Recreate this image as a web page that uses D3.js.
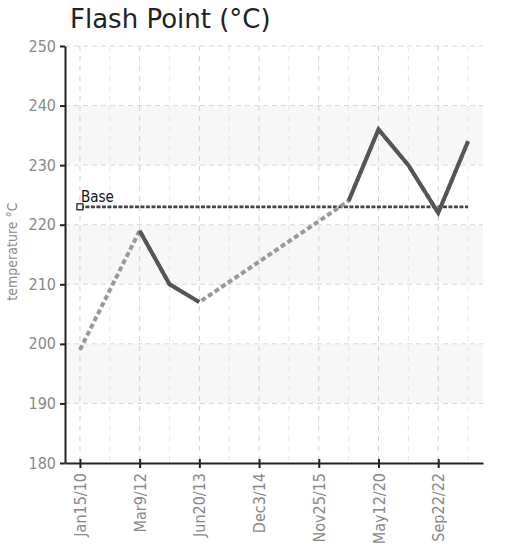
<!DOCTYPE html>
<html>
<head>
<meta charset="utf-8">
<script src="https://cdn.jsdelivr.net/npm/d3@7"></script>
<style>
  body { margin: 0; background: #fff; }
  .tick text { font-family: "DejaVu Sans Condensed", "DejaVu Sans"; font-stretch: condensed; }
</style>
</head>
<body>
<div id="chart"></div>
<script>
// x categories: only every other date is labelled on the axis
const dateLabels = ["Jan15/10", "Mar9/12", "Jun20/13", "Dec3/14", "Nov25/15", "May12/20", "Sep22/22"];
const pointCount = 14;
// flash point readings, null = no measurement (bridged with a dashed line)
const flashPoint = [199, null, 219, 210, 207, null, null, null, null, 224, 236, 230, 222, 234];
const baseValue = 223;
const yTicks = [180, 190, 200, 210, 220, 230, 240, 250];
const bands = [[230, 240], [210, 220], [190, 200]];

const W = 508, H = 549;
const margin = { top: 46, right: 25, bottom: 86, left: 65 };
const width = W - margin.left - margin.right,
  height = H - margin.top - margin.bottom;

const svg = d3.select("#chart").append("svg")
  .attr("width", W).attr("height", H);

svg.append("text")
  .attr("x", 70).attr("y", 28)
  .attr("font-family", "DejaVu Sans")
  .attr("font-size", 26)
  .attr("fill", "#222")
  .text("Flash Point (°C)");

const g = svg.append("g")
  .attr("transform", "translate(" + margin.left + "," + margin.top + ")");

const x = d3.scalePoint()
  .domain(d3.range(pointCount))
  .range([0, width])
  .padding(0.5);

const y = d3.scaleLinear()
  .domain([180, 250])
  .range([height, 0]);

// shaded bands
g.selectAll("rect.band")
  .data(bands)
  .enter().append("rect")
  .attr("class", "band")
  .attr("x", 0)
  .attr("width", width)
  .attr("y", d => y(d[1]))
  .attr("height", d => y(d[0]) - y(d[1]))
  .attr("fill", "#f7f7f7");

// horizontal grid
g.selectAll("line.hgrid")
  .data(yTicks.slice(1))
  .enter().append("line")
  .attr("x1", 0).attr("x2", width)
  .attr("y1", d => y(d)).attr("y2", d => y(d))
  .attr("stroke", "#d8d8d8")
  .attr("stroke-dasharray", "5,4");

// vertical grid
g.selectAll("line.vgrid")
  .data(d3.range(pointCount))
  .enter().append("line")
  .attr("x1", d => x(d)).attr("x2", d => x(d))
  .attr("y1", 0).attr("y2", height)
  .attr("stroke", d => d % 2 == 0 ? "#d0d0d0" : "#e6e6e6")
  .attr("stroke-dasharray", "5,5");

// axes
const yAxis = g.append("g")
  .call(d3.axisLeft(y).tickValues(yTicks).tickSize(5).tickSizeOuter(0).tickPadding(4));
const xAxis = g.append("g")
  .attr("transform", "translate(0," + height + ")")
  .call(d3.axisBottom(x)
    .tickValues(d3.range(0, pointCount, 2))
    .tickFormat(i => dateLabels[i / 2])
    .tickSize(5).tickSizeOuter(0));

[yAxis, xAxis].forEach(a => {
  a.select(".domain").attr("stroke", "#222").attr("stroke-width", 2);
  a.selectAll(".tick line").attr("stroke", "#222").attr("stroke-width", 2);
  a.selectAll(".tick text").attr("fill", "#888").attr("font-size", 16);
});
xAxis.selectAll(".tick line").attr("y1", -4);
xAxis.selectAll(".tick text")
  .attr("transform", "rotate(-90)")
  .attr("text-anchor", "end")
  .attr("x", -10).attr("y", 0).attr("dy", "0.35em");

svg.append("text")
  .attr("transform", "translate(17," + (margin.top + y(215.5)) + ") rotate(-90)")
  .attr("text-anchor", "middle")
  .attr("font-family", "DejaVu Sans Condensed")
  .attr("font-stretch", "condensed")
  .attr("font-size", 14)
  .attr("fill", "#888")
  .text("temperature °C");

// base line
g.append("line")
  .attr("x1", x(0)).attr("x2", x(pointCount - 1))
  .attr("y1", y(baseValue)).attr("y2", y(baseValue))
  .attr("stroke", "#444")
  .attr("stroke-width", 2.8)
  .attr("stroke-dasharray", "4,1.5");
g.append("rect")
  .attr("x", x(0) - 3).attr("y", y(baseValue) - 3)
  .attr("width", 6).attr("height", 6)
  .attr("fill", "#fff").attr("stroke", "#111").attr("stroke-width", 1.2);
g.append("text")
  .attr("x", x(0) + 1).attr("y", y(baseValue) - 5)
  .attr("font-family", "DejaVu Sans Condensed")
  .attr("font-stretch", "condensed")
  .attr("font-size", 15)
  .attr("fill", "#111")
  .text("Base");

// data lines
const series = flashPoint.map((v, i) => ({ i: i, v: v }));
const line = d3.line()
  .x(d => x(d.i))
  .y(d => y(d.v));

g.append("path")
  .datum(series.filter(d => d.v != null))
  .attr("d", line)
  .attr("fill", "none")
  .attr("stroke", "#999")
  .attr("stroke-width", 4)
  .attr("stroke-dasharray", "5,3");

g.append("path")
  .datum(series)
  .attr("d", line.defined(d => d.v != null))
  .attr("fill", "none")
  .attr("stroke", "#555")
  .attr("stroke-width", 4);
</script>
</body>
</html>
